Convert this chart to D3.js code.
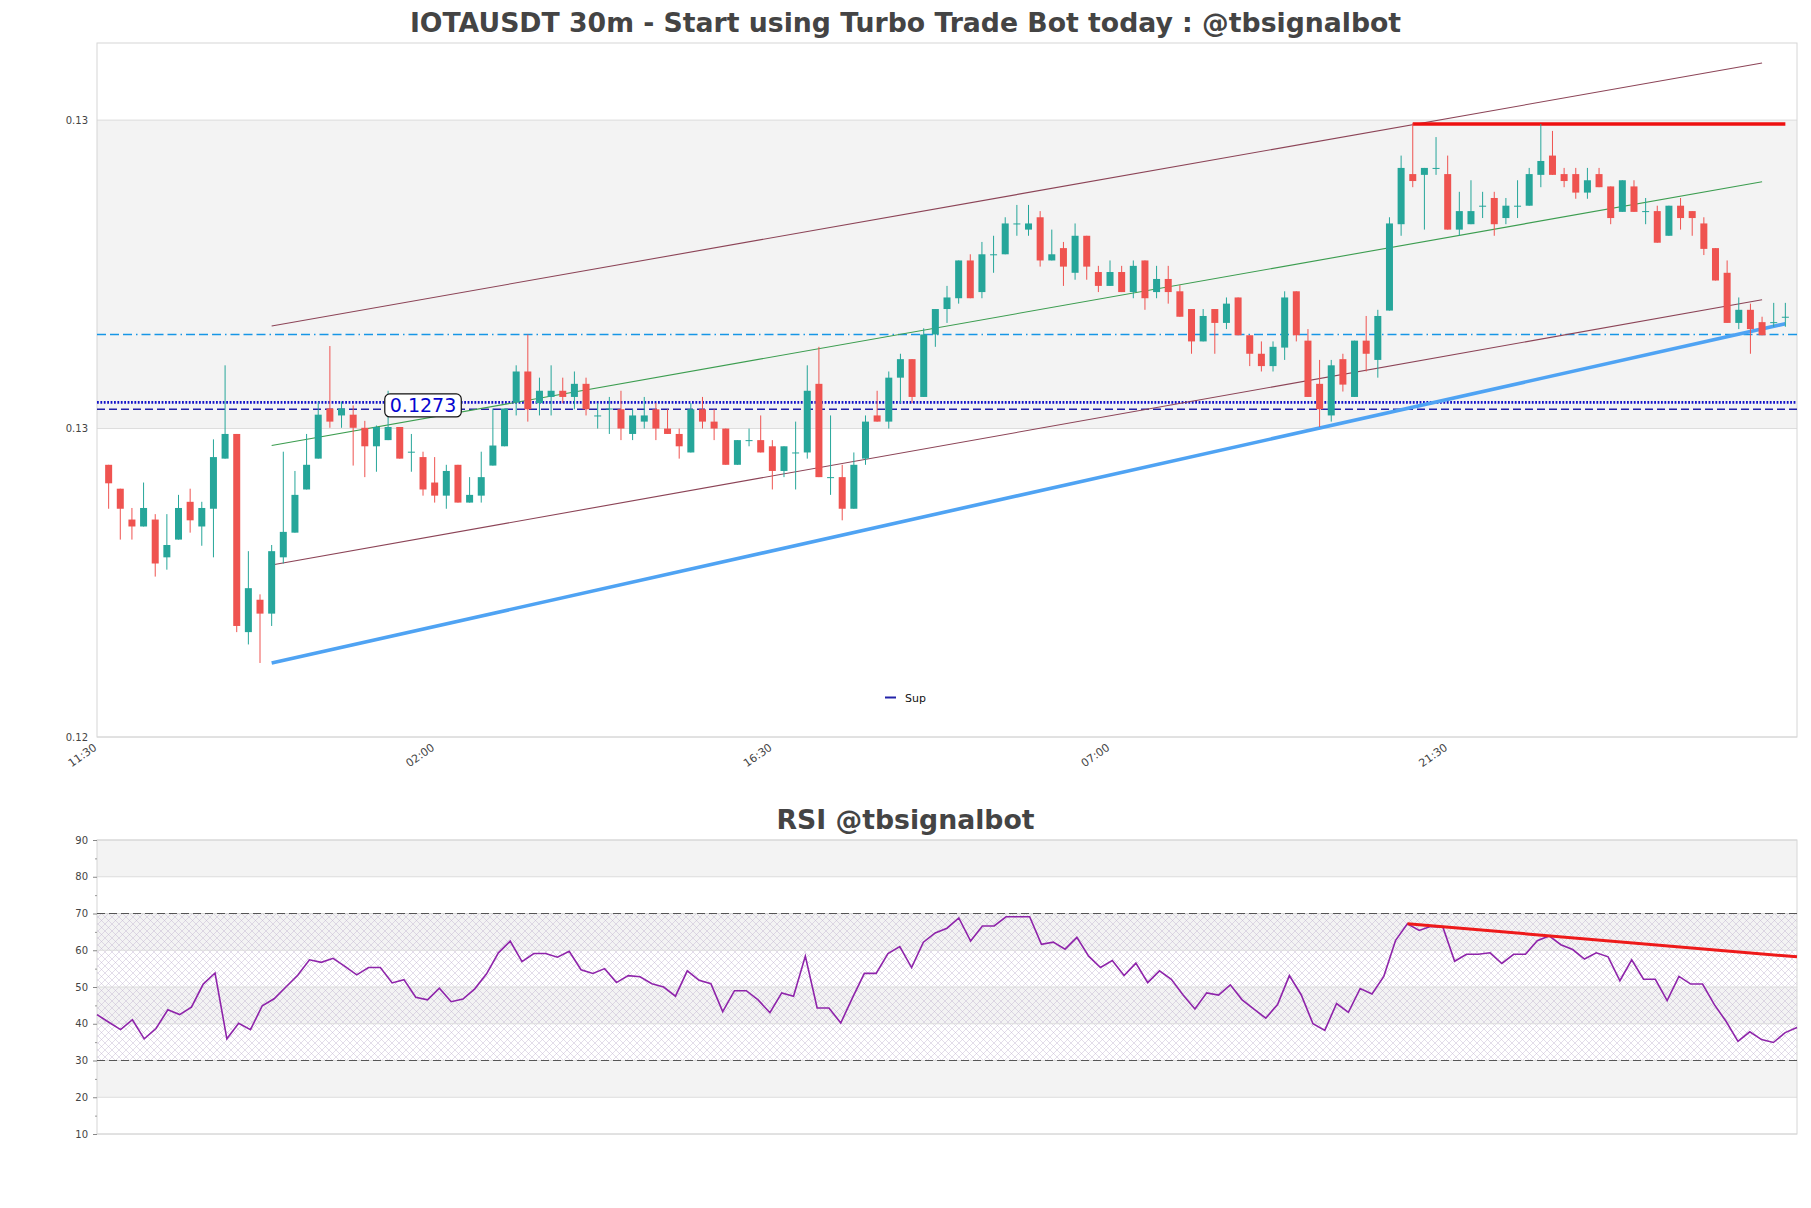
<!DOCTYPE html>
<html>
<head>
<meta charset="utf-8">
<script src="https://cdn.jsdelivr.net/npm/d3@7"></script>
<style>
  body { margin: 0; background: #fff; }
  text { font-family: "DejaVu Sans", sans-serif; }
</style>
</head>
<body>
<svg id="chart" width="1811" height="1208"></svg>
<script>
// ---- data ----
const opens = [0.12653,0.12622,0.12582,0.12573,0.12582,0.12533,0.12556,0.12605,0.12573,0.12596,0.12661,0.12693,0.12436,0.12478,0.12460,0.12533,0.12565,0.12621,0.12661,0.12726,0.12717,0.12718,0.12701,0.12677,0.12685,0.12702,0.12669,0.12663,0.12630,0.12613,0.12653,0.12604,0.12613,0.12652,0.12677,0.12734,0.12774,0.12733,0.12741,0.12749,0.12741,0.12758,0.12716,0.12725,0.12725,0.12693,0.12709,0.12725,0.12700,0.12693,0.12669,0.12725,0.12709,0.12700,0.12653,0.12684,0.12685,0.12677,0.12645,0.12668,0.12669,0.12758,0.12636,0.12637,0.12596,0.12661,0.12717,0.12709,0.12766,0.12790,0.12741,0.12822,0.12855,0.12869,0.12918,0.12877,0.12925,0.12926,0.12965,0.12958,0.12974,0.12918,0.12934,0.12902,0.12950,0.12903,0.12885,0.12903,0.12877,0.12918,0.12877,0.12894,0.12878,0.12855,0.12813,0.12855,0.12837,0.12870,0.12821,0.12797,0.12781,0.12805,0.12878,0.12814,0.12758,0.12717,0.12790,0.12741,0.12814,0.12789,0.12853,0.12965,0.13030,0.13029,0.13037,0.13030,0.12958,0.12965,0.12988,0.12999,0.12973,0.12988,0.12989,0.13029,0.13054,0.13030,0.13030,0.13006,0.13030,0.13014,0.12981,0.13014,0.12981,0.12982,0.12950,0.12989,0.12982,0.12966,0.12934,0.12902,0.12837,0.12854,0.12838,0.12837,0.12844];
const highs = [0.12653,0.12622,0.12597,0.12630,0.12589,0.12589,0.12614,0.12622,0.12605,0.12686,0.12782,0.12693,0.12541,0.12485,0.12549,0.12670,0.12645,0.12693,0.12735,0.12807,0.12735,0.12730,0.12710,0.12704,0.12749,0.12702,0.12693,0.12670,0.12663,0.12653,0.12653,0.12637,0.12670,0.12726,0.12726,0.12782,0.12822,0.12766,0.12782,0.12766,0.12774,0.12766,0.12733,0.12741,0.12749,0.12725,0.12741,0.12733,0.12725,0.12700,0.12733,0.12741,0.12725,0.12700,0.12685,0.12700,0.12717,0.12685,0.12677,0.12709,0.12782,0.12806,0.12717,0.12653,0.12669,0.12717,0.12749,0.12774,0.12797,0.12790,0.12830,0.12855,0.12885,0.12918,0.12926,0.12942,0.12950,0.12974,0.12990,0.12990,0.12982,0.12958,0.12942,0.12966,0.12950,0.12911,0.12918,0.12911,0.12918,0.12918,0.12911,0.12911,0.12886,0.12855,0.12855,0.12855,0.12870,0.12870,0.12821,0.12813,0.12813,0.12878,0.12878,0.12829,0.12789,0.12789,0.12797,0.12814,0.12846,0.12854,0.12974,0.13054,0.13096,0.13038,0.13078,0.13054,0.13007,0.13022,0.13007,0.13007,0.12999,0.13022,0.13038,0.13095,0.13086,0.13038,0.13038,0.13038,0.13038,0.13014,0.13022,0.13022,0.12999,0.12989,0.12989,0.12999,0.12982,0.12974,0.12934,0.12918,0.12870,0.12862,0.12845,0.12863,0.12863];
const lows = [0.12596,0.12556,0.12556,0.12573,0.12508,0.12517,0.12556,0.12565,0.12548,0.12533,0.12661,0.12436,0.12420,0.12396,0.12444,0.12525,0.12565,0.12621,0.12661,0.12701,0.12701,0.12652,0.12637,0.12644,0.12685,0.12661,0.12644,0.12613,0.12604,0.12596,0.12604,0.12604,0.12604,0.12652,0.12677,0.12717,0.12709,0.12717,0.12717,0.12733,0.12725,0.12717,0.12700,0.12693,0.12685,0.12685,0.12700,0.12685,0.12693,0.12661,0.12669,0.12700,0.12685,0.12653,0.12653,0.12677,0.12669,0.12621,0.12637,0.12621,0.12661,0.12637,0.12614,0.12581,0.12596,0.12653,0.12709,0.12700,0.12733,0.12733,0.12741,0.12806,0.12837,0.12862,0.12869,0.12869,0.12902,0.12926,0.12950,0.12950,0.12910,0.12918,0.12885,0.12893,0.12893,0.12877,0.12885,0.12877,0.12869,0.12854,0.12869,0.12862,0.12845,0.12797,0.12813,0.12797,0.12829,0.12821,0.12781,0.12774,0.12774,0.12789,0.12813,0.12741,0.12702,0.12709,0.12748,0.12741,0.12774,0.12766,0.12853,0.12950,0.13013,0.12958,0.13029,0.12958,0.12950,0.12965,0.12973,0.12950,0.12965,0.12973,0.12989,0.13013,0.13029,0.13013,0.12998,0.12998,0.13013,0.12965,0.12981,0.12981,0.12965,0.12941,0.12950,0.12958,0.12950,0.12925,0.12892,0.12837,0.12829,0.12797,0.12821,0.12832,0.12832];
const closes = [0.12629,0.12596,0.12573,0.12597,0.12525,0.12549,0.12597,0.12581,0.12597,0.12663,0.12693,0.12444,0.12493,0.12460,0.12541,0.12566,0.12614,0.12653,0.12718,0.12709,0.12726,0.12701,0.12677,0.12702,0.12702,0.12661,0.12670,0.12621,0.12613,0.12645,0.12604,0.12614,0.12637,0.12678,0.12726,0.12774,0.12725,0.12749,0.12749,0.12741,0.12758,0.12725,0.12717,0.12726,0.12700,0.12717,0.12717,0.12700,0.12693,0.12677,0.12725,0.12709,0.12700,0.12653,0.12685,0.12685,0.12669,0.12645,0.12677,0.12669,0.12749,0.12637,0.12637,0.12596,0.12653,0.12709,0.12709,0.12766,0.12790,0.12741,0.12822,0.12855,0.12870,0.12918,0.12869,0.12926,0.12926,0.12966,0.12966,0.12966,0.12918,0.12926,0.12910,0.12950,0.12910,0.12885,0.12903,0.12877,0.12911,0.12869,0.12894,0.12877,0.12845,0.12813,0.12846,0.12837,0.12862,0.12821,0.12797,0.12781,0.12806,0.12870,0.12821,0.12741,0.12725,0.12782,0.12757,0.12814,0.12797,0.12846,0.12966,0.13038,0.13021,0.13038,0.13038,0.12958,0.12982,0.12982,0.12989,0.12965,0.12989,0.12989,0.13030,0.13047,0.13029,0.13021,0.13006,0.13022,0.13013,0.12973,0.13022,0.12981,0.12982,0.12941,0.12989,0.12973,0.12973,0.12933,0.12892,0.12837,0.12854,0.12829,0.12821,0.12838,0.12845];

const rsiValues = [42.5,40.4,38.4,41.1,35.9,38.7,43.8,42.5,44.5,50.8,53.8,35.9,40.1,38.4,44.9,46.8,50.0,53.2,57.4,56.7,57.8,55.6,53.3,55.3,55.3,51.1,52.0,47.2,46.5,49.7,46.0,46.7,49.5,53.6,59.3,
  62.5,56.9,59.1,59.1,58.1,59.7,54.7,53.7,55.0,51.2,53.1,52.8,50.9,50.0,47.5,54.4,51.8,50.9,43.3,49.0,49.0,46.5,43.0,48.4,47.5,58.4,44.3,44.3,40.2,47.1,53.7,53.7,59.1,61.0,55.3,62.2,64.7,66.0,68.8,62.5,66.6,66.6,69.1,69.1,69.1,61.6,62.2,60.3,63.5,58.4,55.3,57.2,53.1,56.5,51.2,54.4,52.1,47.8,44.0,48.4,47.8,50.6,46.5,44.0,41.5,45.2,53.1,47.9,
  40.0,38.2,45.5,43.1,49.6,48.1,52.9,62.7,67.2,65.4,66.5,66.3,57.0,58.9,58.9,59.3,56.4,58.9,58.9,62.6,63.9,61.5,60.2,57.6,59.3,58.2,51.7,57.4,52.1,52.1,46.3,52.9,50.8,50.8,45.2,40.6,35.2,37.8,35.7,34.9,37.6,39.0];

const priceTicks = [0.123, 0.127, 0.131];
const timeLabels = ["11:30", "02:00", "16:30", "07:00", "21:30"];
const timeLabelIdx = [-1, 28, 57, 86, 115];
const rsiTicks = [10, 20, 30, 40, 50, 60, 70, 80, 90];
const rsiMinorTicks = [15, 25, 35, 45, 55, 65, 75, 85];

// drawn lines
const channelIdx = [14, 142];
const channelUpper = [0.12833, 0.13174];
const channelMid = [0.12678, 0.13020];
const channelLower = [0.12523, 0.12867];
const supTrendIdx = [14, 144];
const supTrend = [0.12396, 0.12836];
const resIdx = [112, 144];
const resLevel = 0.13095;
const dashDotLevel = 0.12822;
const dottedLevel = 0.12734;
const supLevel = 0.12725;
const labelLevel = 0.1273;
const labelIdx = 27;
const rsiTrendIdx = [111, 144];
const rsiTrend = [67.2, 58.2];

const mainTitle = "IOTAUSDT 30m - Start using Turbo Trade Bot today : @tbsignalbot";
const rsiTitle = "RSI @tbsignalbot";

// ---- layout ----
const svg = d3.select("#chart");
const L = 97, R = 1797;
const mainTop = 43, mainBottom = 737;
const rsiTop = 840, rsiBottom = 1134;

const x = d3.scaleLinear().domain([-1, 145]).range([L, R]);
const y = d3.scaleLinear().domain([0.123, 0.132]).range([mainBottom, mainTop]);
const xr = d3.scaleLinear().domain([0, rsiValues.length - 1]).range([L, R]);
const yr = d3.scaleLinear().domain([10, 90]).range([rsiBottom, rsiTop]);

const up = "#26a69a", down = "#ef5350";
const band = "#f3f3f3", grid = "#dcdcdc", frame = "#d6d6d6", tickText = "#444";

const defs = svg.append("defs");
const pat = defs.append("pattern").attr("id", "hatch")
  .attr("patternUnits", "userSpaceOnUse").attr("width", 7).attr("height", 7);
pat.append("path").attr("d", "M0,0L7,7M7,0L0,7M-1,6L1,8M6,-1L8,1")
  .attr("stroke", "#bfb2cf").attr("stroke-width", 0.55).attr("stroke-opacity", 0.8);

// titles
svg.append("text").attr("x", 905.5).attr("y", 32).attr("text-anchor", "middle")
  .attr("font-size", 26.7).attr("font-weight", "bold").attr("fill", "#444").text(mainTitle);
svg.append("text").attr("x", 905.5).attr("y", 829).attr("text-anchor", "middle")
  .attr("font-size", 26.7).attr("font-weight", "bold").attr("fill", "#444").text(rsiTitle);

// ---- main panel ----
const main = svg.append("g");
const pEdges = [y.domain()[0]].concat(priceTicks.filter(t => t > y.domain()[0]), [y.domain()[1]]);
for (let k = 0; k < pEdges.length - 1; k++) {
  if (k % 2 === 1) {
    main.append("rect").attr("x", L).attr("width", R - L)
      .attr("y", y(pEdges[k + 1])).attr("height", y(pEdges[k]) - y(pEdges[k + 1]))
      .attr("fill", band);
  }
}
main.selectAll(".pgrid").data(priceTicks).enter().append("line")
  .attr("x1", L).attr("x2", R).attr("y1", d => y(d)).attr("y2", d => y(d))
  .attr("stroke", grid).attr("stroke-width", 1);
main.append("rect").attr("x", L).attr("y", mainTop).attr("width", R - L).attr("height", mainBottom - mainTop)
  .attr("fill", "none").attr("stroke", frame);

const yAxis = d3.axisLeft(y).tickValues(priceTicks).tickFormat(d3.format(".2f")).tickSize(0).tickPadding(9);
main.append("g").attr("transform", `translate(${L},0)`).call(yAxis)
  .call(g => g.select(".domain").remove())
  .selectAll("text").attr("font-size", 10).attr("fill", tickText).style("font-family", "DejaVu Sans");

const xAxis = d3.axisBottom(x).tickValues(timeLabelIdx).tickFormat((d, i) => timeLabels[i]).tickSize(0);
main.append("g").attr("transform", `translate(0,${mainBottom})`).call(xAxis)
  .call(g => g.select(".domain").remove())
  .selectAll("text").attr("font-size", 11).attr("fill", tickText).style("font-family", "DejaVu Sans")
  .attr("text-anchor", "end").attr("dx", "-7").attr("dy", "7")
  .attr("transform", "rotate(-35)");

// horizontal levels
main.append("line").attr("x1", L).attr("x2", R).attr("y1", y(dashDotLevel)).attr("y2", y(dashDotLevel))
  .attr("stroke", "#1796e6").attr("stroke-width", 1.3).attr("stroke-dasharray", "9,4,9,4,9,4,1.5,4");
main.append("line").attr("x1", L).attr("x2", R).attr("y1", y(dottedLevel)).attr("y2", y(dottedLevel))
  .attr("stroke", "#1212c8").attr("stroke-width", 2.6).attr("stroke-dasharray", "1.8,1.6");
main.append("line").attr("x1", L).attr("x2", R).attr("y1", y(supLevel)).attr("y2", y(supLevel))
  .attr("stroke", "#2323a8").attr("stroke-width", 1.4).attr("stroke-dasharray", "8,4");

// channel
const chan = [[channelUpper, "#8c4457"], [channelMid, "#3c9d50"], [channelLower, "#8c4457"]];
chan.forEach(([v, c]) => {
  main.append("line").attr("x1", x(channelIdx[0])).attr("x2", x(channelIdx[1]))
    .attr("y1", y(v[0])).attr("y2", y(v[1])).attr("stroke", c).attr("stroke-width", 1.1);
});

// support trend & resistance
main.append("line").attr("x1", x(supTrendIdx[0])).attr("x2", x(supTrendIdx[1]))
  .attr("y1", y(supTrend[0])).attr("y2", y(supTrend[1]))
  .attr("stroke", "#4fa3f3").attr("stroke-width", 3.6);
main.append("line").attr("x1", x(resIdx[0])).attr("x2", x(resIdx[1]))
  .attr("y1", y(resLevel)).attr("y2", y(resLevel))
  .attr("stroke", "#ee1010").attr("stroke-width", 3.6);

// candles
const candles = opens.map((o, i) => ({ i, o, h: highs[i], l: lows[i], c: closes[i] }));
const cg = main.append("g");
cg.selectAll(".wick").data(candles).enter().append("line")
  .attr("x1", d => x(d.i)).attr("x2", d => x(d.i))
  .attr("y1", d => y(d.h)).attr("y2", d => y(d.l))
  .attr("stroke", d => d.c >= d.o ? up : down).attr("stroke-width", 1);
cg.selectAll(".body").data(candles).enter().append("rect")
  .attr("x", d => x(d.i) - 3.5).attr("width", 7)
  .attr("y", d => y(Math.max(d.o, d.c)))
  .attr("height", d => Math.max(1, Math.abs(y(d.o) - y(d.c))))
  .attr("fill", d => d.c >= d.o ? up : down);

// level label
const lbl = main.append("g");
const lt = lbl.append("text").attr("x", x(labelIdx)).attr("y", y(labelLevel))
  .attr("text-anchor", "middle").attr("dominant-baseline", "central")
  .attr("font-size", 19).attr("fill", "#0606d0").text(d3.format(".4f")(labelLevel));
const bb = lt.node().getBBox();
lbl.insert("rect", "text").attr("x", bb.x - 5).attr("y", bb.y - 0.5)
  .attr("width", bb.width + 10).attr("height", bb.height + 1)
  .attr("rx", 5).attr("fill", "#fff").attr("stroke", "#111").attr("stroke-width", 1.2);

// legend
main.append("line").attr("x1", 885).attr("x2", 896).attr("y1", 697.5).attr("y2", 697.5)
  .attr("stroke", "#2323a8").attr("stroke-width", 2);
main.append("text").attr("x", 905).attr("y", 701.5).attr("font-size", 11).attr("fill", "#111").text("Sup");

// ---- RSI panel ----
const rp = svg.append("g");
for (let k = 0; k < rsiTicks.length - 1; k++) {
  if (k % 2 === 1) {
    rp.append("rect").attr("x", L).attr("width", R - L)
      .attr("y", yr(rsiTicks[k + 1])).attr("height", yr(rsiTicks[k]) - yr(rsiTicks[k + 1]))
      .attr("fill", band);
  }
}
rp.append("rect").attr("x", L).attr("width", R - L).attr("y", yr(70)).attr("height", yr(30) - yr(70))
  .attr("fill", "url(#hatch)");
rp.selectAll(".rgrid").data(rsiTicks).enter().append("line")
  .attr("x1", L).attr("x2", R).attr("y1", d => yr(d)).attr("y2", d => yr(d))
  .attr("stroke", grid).attr("stroke-width", 1);
rp.append("rect").attr("x", L).attr("y", rsiTop).attr("width", R - L).attr("height", rsiBottom - rsiTop)
  .attr("fill", "none").attr("stroke", frame);
[70, 30].forEach(v => {
  rp.append("line").attr("x1", L).attr("x2", R).attr("y1", yr(v)).attr("y2", yr(v))
    .attr("stroke", "#555").attr("stroke-width", 1.2).attr("stroke-dasharray", "8,4");
});

const rAxis = d3.axisLeft(yr).tickValues(rsiTicks).tickSize(4).tickPadding(5);
rp.append("g").attr("transform", `translate(${L},0)`).call(rAxis)
  .call(g => g.select(".domain").remove())
  .call(g => g.selectAll("line").attr("stroke", "#888"))
  .selectAll("text").attr("font-size", 10).attr("fill", tickText).style("font-family", "DejaVu Sans");
rp.append("g").attr("transform", `translate(${L},0)`)
  .call(d3.axisLeft(yr).tickValues(rsiMinorTicks).tickSize(2).tickFormat(""))
  .call(g => g.select(".domain").remove())
  .call(g => g.selectAll("line").attr("stroke", "#999"));

const rsiLine = d3.line().x((d, i) => xr(i)).y(d => yr(d));
rp.append("path").datum(rsiValues).attr("d", rsiLine)
  .attr("fill", "none").attr("stroke", "#8e24aa").attr("stroke-width", 1.6);
rp.append("line").attr("x1", xr(rsiTrendIdx[0])).attr("x2", xr(rsiTrendIdx[1]))
  .attr("y1", yr(rsiTrend[0])).attr("y2", yr(rsiTrend[1]))
  .attr("stroke", "#ee1a1a").attr("stroke-width", 3);
</script>
</body>
</html>
